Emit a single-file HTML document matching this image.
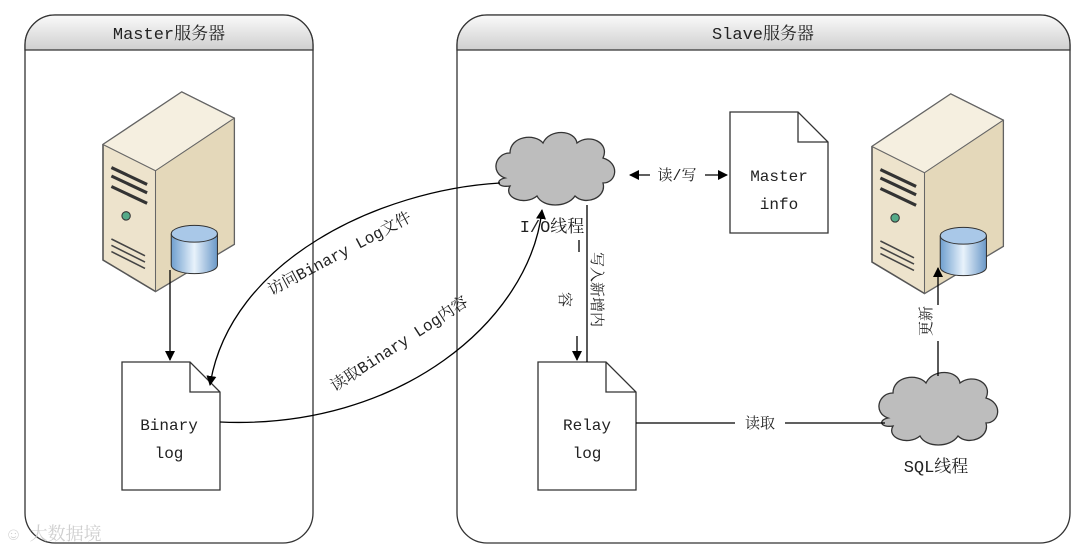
<!DOCTYPE html><html><head><meta charset="utf-8"><style>
body{margin:0;background:#fff;}
svg text{font-family:"Liberation Mono","Noto Serif CJK SC",monospace;fill:#222;}
</style></head><body>
<svg width="1080" height="553" viewBox="0 0 1080 553" xmlns="http://www.w3.org/2000/svg">
<defs>
<linearGradient id="hd" x1="0" y1="0" x2="0" y2="1"><stop offset="0" stop-color="#fafafa"/><stop offset="1" stop-color="#cfcfcf"/></linearGradient>
<linearGradient id="cyl" x1="0" y1="0" x2="1" y2="0"><stop offset="0" stop-color="#6f9fcf"/><stop offset=".5" stop-color="#e8f2fb"/><stop offset="1" stop-color="#6a98c8"/></linearGradient>
<marker id="ar" markerWidth="10" markerHeight="10" refX="9" refY="5" orient="auto" markerUnits="userSpaceOnUse"><path d="M0,0 L10,5 L0,10 z" fill="#000"/></marker>
<g id="srv">
<path d="M0,50 L75,0 L125,25 L125,145 L50,190 L0,160 z" fill="#ede3cc" stroke="#555" stroke-width="1.5"/>
<path d="M0,50 L75,0 L125,25 L50,75 z" fill="#f5efe0" stroke="#666"/>
<path d="M50,75 L125,25 L125,145 L50,190 z" fill="#e4d8ba" stroke="#666"/>
<path d="M8,72 L42,88 M8,80 L42,96 M8,90 L42,106" stroke="#333" stroke-width="3"/>
<circle cx="22" cy="118" r="4" fill="#5a8" stroke="#333"/>
<path d="M8,140 L40,156 M8,146 L40,162 M8,152 L40,168" stroke="#444" stroke-width="1.5"/>
<path d="M65,135 L65,165 A22,8 0 0 0 109,165 L109,135" fill="url(#cyl)" stroke="#333"/>
<ellipse cx="87" cy="135" rx="22" ry="8" fill="#a9c8e8" stroke="#333"/>
</g>
<g id="cloud"><path d="M-50,10 C-65,5 -60,-15 -45,-15 C-45,-32 -20,-35 -12,-25 C-5,-40 20,-38 22,-25 C35,-35 55,-25 48,-10 C65,-5 62,15 48,15 C52,30 30,38 20,28 C12,40 -12,40 -18,28 C-30,38 -52,30 -45,18 C-58,20 -60,12 -50,10 z" fill="#bdbdbd" stroke="#333" stroke-width="1.3"/></g>
</defs>
<rect x="25" y="15" width="288" height="528" rx="30" fill="#fff" stroke="#333" stroke-width="1.3"/>
<path d="M25,50 L25,45 A30,30 0 0 1 55,15 L283,15 A30,30 0 0 1 313,45 L313,50 z" fill="url(#hd)" stroke="#333" stroke-width="1.3"/>
<text x="169" y="39" font-size="17" text-anchor="middle">Master服务器</text>
<rect x="457" y="15" width="613" height="528" rx="30" fill="#fff" stroke="#333" stroke-width="1.3"/>
<path d="M457,50 L457,45 A30,30 0 0 1 487,15 L1040,15 A30,30 0 0 1 1070,45 L1070,50 z" fill="url(#hd)" stroke="#333" stroke-width="1.3"/>
<text x="763" y="39" font-size="17" text-anchor="middle">Slave服务器</text>
<use href="#srv" transform="translate(103,92) scale(1.05)"/>
<use href="#srv" transform="translate(872,94) scale(1.05)"/>
<path d="M122,362 L190,362 L220,392 L220,490 L122,490 z M190,362 L190,392 L220,392" fill="#fff" stroke="#333" stroke-width="1.3"/>
<text x="169" y="430" font-size="16" text-anchor="middle">Binary</text><text x="169" y="458" font-size="16" text-anchor="middle">log</text>
<path d="M538,362 L606,362 L636,392 L636,490 L538,490 z M606,362 L606,392 L636,392" fill="#fff" stroke="#333" stroke-width="1.3"/>
<text x="587" y="430" font-size="16" text-anchor="middle">Relay</text><text x="587" y="458" font-size="16" text-anchor="middle">log</text>
<path d="M730,112 L798,112 L828,142 L828,233 L730,233 z M798,112 L798,142 L828,142" fill="#fff" stroke="#333" stroke-width="1.3"/>
<text x="779" y="181" font-size="16" text-anchor="middle">Master</text><text x="779" y="209" font-size="16" text-anchor="middle">info</text>
<use href="#cloud" x="555" y="168"/>
<use href="#cloud" x="938" y="408"/>
<text x="552" y="232" font-size="17" text-anchor="middle">I/O线程</text>
<text x="936" y="472" font-size="17" text-anchor="middle">SQL线程</text>
<line x1="170" y1="270" x2="170" y2="360" stroke="#000" stroke-width="1.3" marker-end="url(#ar)"/>
<path d="M500,183 C380,190 230,260 210,385" fill="none" stroke="#000" stroke-width="1.3" marker-end="url(#ar)"/>
<path d="M220,422 C400,430 530,320 542,210" fill="none" stroke="#000" stroke-width="1.3" marker-end="url(#ar)"/>
<text transform="translate(342,258) rotate(-28)" font-size="16" text-anchor="middle">访问Binary Log文件</text>
<text transform="translate(402,348) rotate(-33)" font-size="16" text-anchor="middle">读取Binary Log内容</text>
<line x1="587" y1="205" x2="587" y2="362" stroke="#000" stroke-width="1.3"/>
<line x1="577" y1="336" x2="577" y2="360" stroke="#000" stroke-width="1.3" marker-end="url(#ar)"/>
<line x1="579" y1="240" x2="579" y2="252" stroke="#000" stroke-width="1.3"/>
<text transform="translate(592,252) rotate(90)" font-size="15">写入新增内</text>
<text transform="translate(560,292) rotate(90)" font-size="15">容</text>
<line x1="650" y1="175" x2="630" y2="175" stroke="#000" stroke-width="1.3" marker-end="url(#ar)"/>
<line x1="705" y1="175" x2="727" y2="175" stroke="#000" stroke-width="1.3" marker-end="url(#ar)"/>
<text x="677" y="180" font-size="15" text-anchor="middle">读/写</text>
<line x1="636" y1="423" x2="735" y2="423" stroke="#000" stroke-width="1.3"/>
<line x1="785" y1="423" x2="885" y2="423" stroke="#000" stroke-width="1.3"/>
<text x="760" y="428" font-size="15" text-anchor="middle">读取</text>
<line x1="938" y1="376" x2="938" y2="268" stroke="#000" stroke-width="1.3" marker-end="url(#ar)"/>
<rect x="928" y="305" width="20" height="36" fill="#fff"/>
<text transform="translate(931,306) rotate(-90)" font-size="15" text-anchor="end">更新</text>
<text x="8" y="540" font-size="18" style="fill:#cfcfcf">☺ 大数据境</text>
</svg></body></html>
